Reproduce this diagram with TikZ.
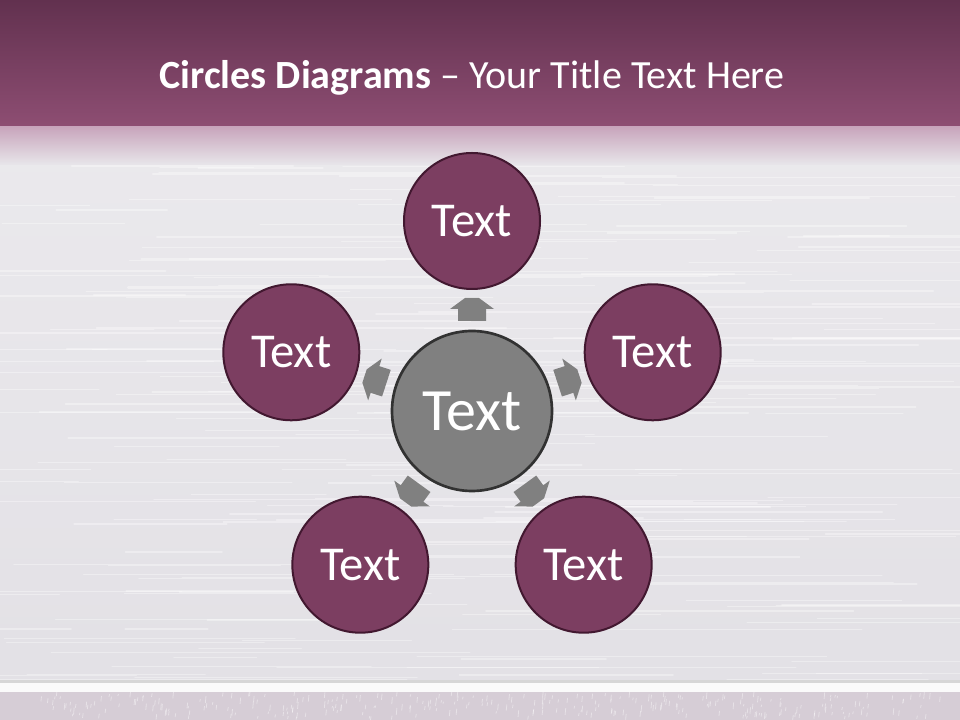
\documentclass[tikz,border=0pt]{standalone}
\usepackage{fontspec}
\setmainfont{Carlito}
\begin{document}
\begin{tikzpicture}[x=0.75pt,y=0.75pt]
\definecolor{bgmain}{RGB}{226,224,229}
\definecolor{bandtop}{RGB}{98,49,79}
\definecolor{bandbot}{RGB}{142,78,115}
\definecolor{fadepink}{RGB}{200,165,188}
\definecolor{circfill}{RGB}{124,62,97}
\definecolor{circline}{RGB}{66,24,48}
\definecolor{centfill}{RGB}{128,128,128}
\definecolor{centline}{RGB}{50,50,50}
\definecolor{arrowgray}{RGB}{128,128,128}
\definecolor{footfill}{RGB}{214,205,214}
\tikzset{
  outer/.style={circle, fill=circfill, draw=circline, line width=1.5pt, minimum size=102pt, inner sep=0pt, text=white, font=\fontsize{36.5}{42}\selectfont},
  centre/.style={circle, fill=centfill, draw=centline, line width=2pt, minimum size=120pt, inner sep=0pt, text=white, font=\fontsize{45}{52}\selectfont},
  blockarrow/.style={fill=arrowgray},
  streak/.style={white, opacity=0.35, line cap=round}
}
\useasboundingbox (0,0) rectangle (960,720);
% background
\shade[top color=bgmain!70!white, bottom color=bgmain] (0,0) rectangle (960,600);
\pgfmathsetseed{11}
\foreach \i in {1,...,220} {
  \pgfmathsetmacro\yy{40+rnd*520}
  \pgfmathsetmacro\xx{rnd*900-60}
  \pgfmathsetmacro\ll{80+rnd*360}
  \pgfmathsetmacro\ww{0.4+rnd*1.2}
  \draw[streak, line width=\ww pt] (\xx,\yy) -- ++(\ll,0);
}
% top band
\shade[top color=bandtop, bottom color=bandbot] (0,592) rectangle (960,720);
\shade[top color=fadepink, bottom color=bgmain!80!white] (0,555) rectangle (960,593);
% bottom band
\fill[black!16] (0,37) rectangle (960,40);
\fill[white!96!gray] (0,28) rectangle (960,37);
\fill[footfill] (0,0) rectangle (960,28);
\pgfmathsetseed{5}
\foreach \i in {1,...,300} {
  \pgfmathsetmacro\xx{40+rnd*900}
  \pgfmathsetmacro\yy{rnd*24}
  \pgfmathsetmacro\ll{2+rnd*5}
  \draw[white, opacity=0.4, line width=0.6pt] (\xx,\yy) -- ++(0.6,\ll);
}
% title
\node[text=white, font=\fontsize{30}{36}\selectfont] (title) at (472,642) {\textbf{Circles Diagrams} – Your Title Text Here};
% circles
\node[centre] (c) at (472,309) {Text};
\foreach \a/\n in {90/t,162/l,18/r,234/bl,306/br} {
  \path (c.center) ++(\a:190) node[outer] (\n) {Text};
}
% block arrows
\foreach \a in {90,162,18,234,306} {
  \begin{scope}[shift={(c.center)}, rotate=\a-90]
    \fill[blockarrow] (-14,90) -- (-14,102) -- (-22,102) -- (-7,113) -- (7,113) -- (22,102) -- (14,102) -- (14,90) -- cycle;
  \end{scope}
}
\end{tikzpicture}
\end{document}
